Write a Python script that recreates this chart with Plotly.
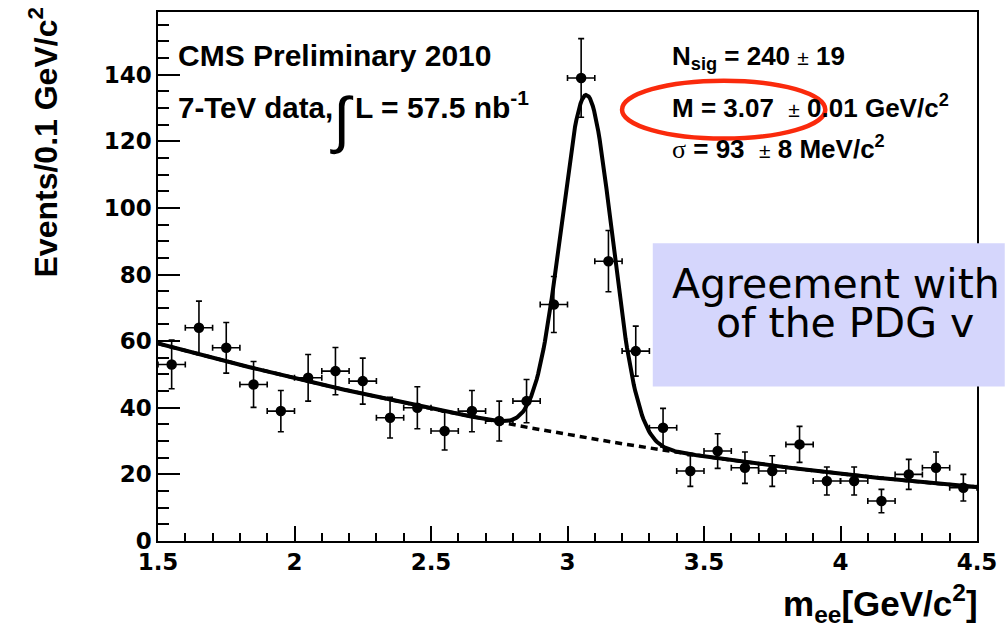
import numpy as np
import plotly.graph_objects as go

# ---------------- data ----------------
bin_centers = [1.55, 1.65, 1.75, 1.85, 1.95, 2.05, 2.15, 2.25, 2.35, 2.45,
               2.55, 2.65, 2.75, 2.85, 2.95, 3.05, 3.15, 3.25, 3.35, 3.45,
               3.55, 3.65, 3.75, 3.85, 3.95, 4.05, 4.15, 4.25, 4.35, 4.45]
events = [53, 64, 58, 47, 39, 49, 51, 48, 37, 40,
          33, 39, 36, 42, 71, 139, 84, 57, 34, 21,
          27, 22, 21, 29, 18, 18, 12, 20, 22, 16]
event_errors = [7.3, 8.0, 7.6, 6.9, 6.2, 7.0, 7.1, 6.9, 6.1, 6.3,
                5.7, 6.2, 6.0, 6.5, 8.4, 11.8, 9.2, 7.5, 5.8, 4.6,
                5.2, 4.7, 4.6, 5.4, 4.2, 4.2, 3.5, 4.5, 4.7, 4.0]
bin_half_width = 0.05

# fit parameters (signal: Gaussian, background: 2nd-order polynomial in (m-1.5))
n_sig = 240.0
mass = 3.07
sigma = 0.093
bin_width = 0.1
bkg_p0, bkg_p1, bkg_p2 = 59.3, -22.1, 2.58

x_tickvals = [1.5, 2.0, 2.5, 3.0, 3.5, 4.0, 4.5]
x_ticktext = ["1.5", "2", "2.5", "3", "3.5", "4", "4.5"]
y_tickvals = [0, 20, 40, 60, 80, 100, 120, 140]

# ---------------- fit curves ----------------
m = np.linspace(1.5, 4.5, 600)
bkg = bkg_p0 + bkg_p1 * (m - 1.5) + bkg_p2 * (m - 1.5) ** 2
sig = n_sig * bin_width / (np.sqrt(2 * np.pi) * sigma) * np.exp(-0.5 * ((m - mass) / sigma) ** 2)
total = bkg + sig

# ---------------- geometry helpers ----------------
W, H = 1007, 632
L, R, T, B = 158, 984, 10, 541


def px(xp):
    return (xp - L) / (R - L)


def py(yp):
    return (B - yp) / (B - T)


FONT = "Liberation Sans, Arial, Helvetica, sans-serif"
WIDE = "DejaVu Sans, Liberation Sans, sans-serif"

fig = go.Figure()

fig.add_trace(go.Scatter(x=m, y=bkg, mode="lines",
                         line=dict(color="black", width=3.5, dash="7px,5px"),
                         hoverinfo="skip", showlegend=False))
fig.add_trace(go.Scatter(x=m, y=total, mode="lines",
                         line=dict(color="black", width=4),
                         hoverinfo="skip", showlegend=False))
fig.add_trace(go.Scatter(
    x=bin_centers, y=events, mode="markers",
    marker=dict(color="black", size=10.5, symbol="circle"),
    error_y=dict(type="data", array=event_errors, color="black", thickness=1.6, width=3),
    error_x=dict(type="constant", value=bin_half_width, color="black", thickness=1.6, width=3),
    showlegend=False))

tickfont = dict(family=WIDE, size=23, color="black", weight="bold")

fig.update_xaxes(range=[1.5, 4.5], tickvals=x_tickvals, ticktext=x_ticktext,
                 ticks="inside", ticklen=15, tickwidth=1.5, tickcolor="black",
                 minor=dict(dtick=0.1, ticks="inside", ticklen=8, tickwidth=1.5, tickcolor="black"),
                 showline=True, linecolor="black", linewidth=1.5, mirror=True,
                 showgrid=False, zeroline=False, tickfont=tickfont)
fig.update_yaxes(range=[0, 158.8], tickvals=y_tickvals,
                 ticks="inside", ticklen=22, tickwidth=1.5, tickcolor="black",
                 minor=dict(dtick=5, ticks="inside", ticklen=11, tickwidth=1.5, tickcolor="black"),
                 showline=True, linecolor="black", linewidth=1.5, mirror=True,
                 showgrid=False, zeroline=False, tickfont=tickfont)

shapes = [
    # blue comment box
    dict(type="rect", xref="paper", yref="paper",
         x0=px(657), x1=px(1012), y0=py(386), y1=py(242),
         fillcolor="#d5d6fc", line=dict(width=0), layer="above"),
    # red ellipse
    dict(type="circle", xref="paper", yref="paper",
         x0=px(626), x1=px(831), y0=py(137), y1=py(79),
         line=dict(color="rgb(250,42,12)", width=4.5), layer="above"),
]

annots = []


def ann(text, x, y, size, xanchor="left", yanchor="middle", textangle=0,
        weight="bold", family=FONT):
    annots.append(dict(text=text, x=px(x), y=py(y), xref="paper", yref="paper",
                       xanchor=xanchor, yanchor=yanchor, showarrow=False,
                       textangle=textangle,
                       font=dict(family=family, color="black", size=size, weight=weight)))


pm = "<span style='font-weight:normal;font-size:21px'>\u00b1</span>"
sig_sym = "<span style='font-weight:normal;font-family:Liberation Serif'>\u03c3</span>"

ann("CMS Preliminary 2010", 176, 54, 30)
ann("7-TeV data,", 176, 106, 29.5)
ann("\u222b", 329, 118, 62, weight="normal")
ann("L = 57.5 nb<sup>-1</sup>", 355, 103, 30)
ann("N<sub>sig</sub> = 240 " + pm + " 19", 674, 56, 26)
ann("M = 3.07 &nbsp;" + pm + " 0.01 GeV/c<sup>2</sup>", 674, 105, 26)
ann(sig_sym + " = 93 &nbsp;" + pm + " 8 MeV/c<sup>2</sup>", 674, 146, 26)
ann("Agreement with", 674, 283, 41, weight="normal", family=WIDE)
ann("of the PDG v", 719, 322, 41, weight="normal", family=WIDE)
ann("Events/0.1 GeV/c<sup>2</sup>", 42, 141, 32, xanchor="center", textangle=-90)
ann("m<sub>ee</sub>[GeV/c<sup>2</sup>]", 987, 604, 35, xanchor="right")

fig.update_layout(width=W, height=H,
                  margin=dict(l=L, r=W - R, t=T, b=H - B, pad=0),
                  paper_bgcolor="white", plot_bgcolor="white",
                  shapes=shapes, annotations=annots, showlegend=False)

fig.write_html("out.html")
